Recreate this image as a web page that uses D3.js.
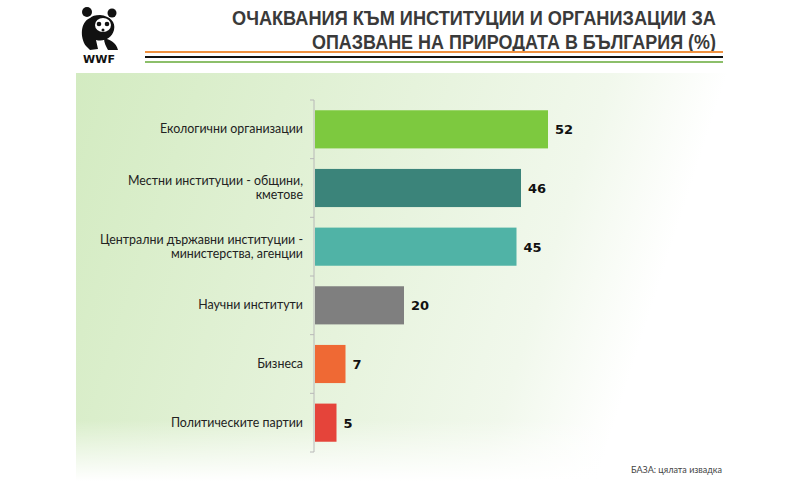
<!DOCTYPE html>
<html><head><meta charset="utf-8">
<script src="https://cdn.jsdelivr.net/npm/d3@7/dist/d3.min.js"></script>
<style>body{margin:0;background:#fff}svg{display:block}</style>
</head><body>
<script>
const categories = ["Екологични организации","Местни институции - общини, кметове","Централни държавни институции - министерства, агенции","Научни институти","Бизнеса","Политическите партии"];
const labelLines = [["Екологични организации"],["Местни институции - общини,","кметове"],["Централни държавни институции -","министерства, агенции"],["Научни институти"],["Бизнеса"],["Политическите партии"]];
const values = [52,46,45,20,7,5];
const colors = ["#7dc93f","#3b847a","#50b3a6","#7f7f7f","#ef6934","#e5443a"];
const titleLines = ["ОЧАКВАНИЯ КЪМ ИНСТИТУЦИИ И ОРГАНИЗАЦИИ ЗА","ОПАЗВАНЕ НА ПРИРОДАТА В БЪЛГАРИЯ (%)"];
const footnote = "БАЗА: цялата извадка";

const W=800,H=481;
const svg=d3.select("body").append("svg").attr("width",W).attr("height",H);
const defs=svg.append("defs");
const lg=defs.append("linearGradient").attr("id","bgH").attr("x1","0").attr("x2","1").attr("y1","0").attr("y2","0.2");
lg.append("stop").attr("offset","0").attr("stop-color","#d3ebc1");
lg.append("stop").attr("offset","0.5").attr("stop-color","#e6f3dc");
lg.append("stop").attr("offset","0.78").attr("stop-color","#f1f8ec");
lg.append("stop").attr("offset","0.95").attr("stop-color","#ffffff");
const lv=defs.append("linearGradient").attr("id","bgV").attr("x1","0").attr("x2","0").attr("y1","0").attr("y2","1");
lv.append("stop").attr("offset","0.85").attr("stop-color","#fff").attr("stop-opacity",0);
lv.append("stop").attr("offset","1").attr("stop-color","#fff").attr("stop-opacity",1);
svg.append("rect").attr("x",76).attr("y",73).attr("width",660).attr("height",408).attr("fill","url(#bgH)");
svg.append("rect").attr("x",70).attr("y",73).attr("width",670).attr("height",408).attr("fill","url(#bgV)");

// title
const titleStart=[232,312];
const t=svg.append("g").attr("font-family","'Liberation Sans','DejaVu Sans',sans-serif").attr("font-weight","bold").attr("font-size",20).attr("fill","#3a3a3a");
titleLines.forEach((l,i)=>t.append("text").attr("x",titleStart[i]).attr("y",25+i*24)
  .attr("textLength",716-titleStart[i]).attr("lengthAdjust","spacingAndGlyphs").text(l));
[["#f0913f",52],["#111",57],["#8cbf6a",62]].forEach(([c,y])=>svg.append("line").attr("x1",145).attr("x2",723).attr("y1",y).attr("y2",y).attr("stroke",c).attr("stroke-width",2));

// logo (simplified panda)
const g=svg.append("g").attr("fill","#111");
g.append("path").attr("d","M90,18 C80,22 80,38 86,46 L90,50 L98,49 L96,40 C104,42 112,38 114,30 C116,22 110,16 100,15 C95,15 92,16 90,18 Z");
g.append("path").attr("d","M104,38 C110,40 116,42 118,50 L108,50 C106,46 104,43 104,38 Z");
g.append("circle").attr("cx",87).attr("cy",12).attr("r",5);
g.append("circle").attr("cx",112).attr("cy",13).attr("r",4.5);
g.append("ellipse").attr("cx",103).attr("cy",25).attr("rx",8).attr("ry",7).attr("fill","#fff");
g.append("circle").attr("cx",99).attr("cy",24).attr("r",2.3);
g.append("circle").attr("cx",107).attr("cy",24).attr("r",2.3);
g.append("circle").attr("cx",103).attr("cy",30).attr("r",1.5);
g.append("text").attr("x",99).attr("y",63).attr("text-anchor","middle").attr("font-family","'DejaVu Sans',sans-serif").attr("font-weight","bold").attr("font-size",11).text("WWF");

// chart
const x=d3.scaleLinear().domain([0,60]).range([314,584]);
const y=d3.scaleBand().domain(categories).range([100,452]).paddingInner(0.35).paddingOuter(0.175);
svg.append("line").attr("x1",314).attr("x2",314).attr("y1",100).attr("y2",452).attr("stroke","#b8b8b8");
const step=y.step();
d3.range(categories.length+1).forEach(i=>svg.append("line").attr("x1",310).attr("x2",314).attr("y1",100+i*step).attr("y2",100+i*step).attr("stroke","#b8b8b8"));
svg.selectAll("rect.bar").data(values).join("rect").attr("class","bar")
 .attr("x",x(0)+1).attr("y",(d,i)=>y(categories[i])).attr("width",d=>x(d)-x(0)-1).attr("height",y.bandwidth()).attr("fill",(d,i)=>colors[i]);
svg.selectAll("text.val").data(values).join("text").attr("class","val")
 .attr("x",d=>x(d)+7).attr("y",(d,i)=>y(categories[i])+y.bandwidth()/2+5)
 .attr("font-family","'DejaVu Sans',sans-serif").attr("font-weight","bold").attr("font-size",13).attr("fill","#111").text(d=>d);
labelLines.forEach((ls,i)=>{
  const cy=y(categories[i])+y.bandwidth()/2;
  const tx=svg.append("text").attr("text-anchor","end").attr("font-family","'Lato',sans-serif").attr("font-size",12.4).attr("fill","#222");
  ls.forEach((l,j)=>tx.append("tspan").attr("x",303).attr("y",cy+4+(j-(ls.length-1)/2)*14).text(l));
});
svg.append("text").attr("x",722).attr("y",473).attr("text-anchor","end").attr("font-family","'Lato',sans-serif").attr("font-size",9).attr("fill","#444").text(footnote);
</script>
</body></html>
